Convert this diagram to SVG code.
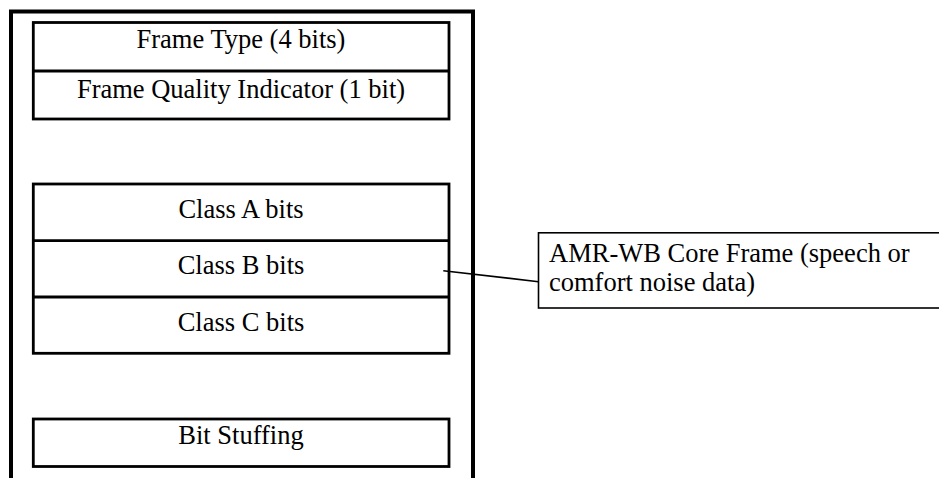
<svg xmlns="http://www.w3.org/2000/svg" width="939" height="478" viewBox="0 0 939 478">
<style>
.t{font-family:"Liberation Serif","Times New Roman",serif;font-size:26.5px;fill:#000}
.c{text-anchor:middle}
.box{fill:none;stroke:#000;stroke-width:2.8}
.div{stroke:#000;stroke-width:2.8}
.thin{fill:none;stroke:#000;stroke-width:1.6}
</style>
<rect width="939" height="478" fill="#fff"/>
<g id="outer-frame">
<path d="M11 478 V11.5 H473 V478" fill="none" stroke="#000" stroke-width="4"/>
</g>
<g id="header">
<rect class="box" x="33.3" y="22.5" width="415.7" height="96.5"/>
<line class="div" x1="33.3" y1="71" x2="449" y2="71"/>
<text class="t c" x="241" y="48">Frame Type (4 bits)</text>
<text class="t c" x="241" y="97.5">Frame Quality Indicator (1 bit)</text>
</g>
<g id="core-frame">
<rect class="box" x="33.3" y="184" width="415.7" height="169.3"/>
<line class="div" x1="33.3" y1="240.7" x2="449" y2="240.7"/>
<line class="div" x1="33.3" y1="297" x2="449" y2="297"/>
<text class="t c" x="241" y="218">Class A bits</text>
<text class="t c" x="241" y="274">Class B bits</text>
<text class="t c" x="241" y="330.5">Class C bits</text>
</g>
<g id="bit-stuffing">
<rect class="box" x="33.3" y="419" width="415.7" height="47.5"/>
<text class="t c" x="241" y="444">Bit Stuffing</text>
</g>
<g id="callout">
<rect class="thin" x="538.5" y="232.8" width="410" height="75.2"/>
<text class="t" x="549" y="262.3">AMR-WB Core Frame (speech or</text>
<text class="t" x="549" y="291">comfort noise data)</text>
</g>
<g id="connectors">
<line class="thin" x1="443.3" y1="270.7" x2="538.5" y2="281.7"/>
</g>
</svg>
